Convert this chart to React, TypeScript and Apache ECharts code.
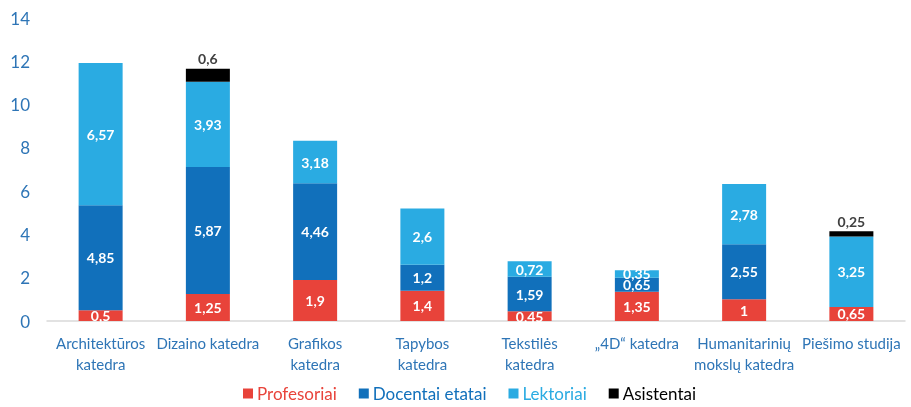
import React, { useEffect, useRef } from "react";
import * as echarts from "echarts";

const categories = [
  "Architektūros\nkatedra",
  "Dizaino katedra",
  "Grafikos\nkatedra",
  "Tapybos\nkatedra",
  "Tekstilės\nkatedra",
  "„4D“ katedra",
  "Humanitarinių\nmokslų katedra",
  "Piešimo studija",
];
const profesoriai = [0.5, 1.25, 1.9, 1.4, 0.45, 1.35, 1, 0.65];
const docentai = [4.85, 5.87, 4.46, 1.2, 1.59, 0.65, 2.55, 0];
// bar heights as drawn in the reference (Grafikos segment is drawn shorter than its label)
const lektoriai = [6.57, 3.93, 1.97, 2.6, 0.72, 0.35, 2.78, 3.25];
const lektoriaiLabels = ["6,57", "3,93", "3,18", "2,6", "0,72", "0,35", "2,78", "3,25"];
const asistentai = [0, 0.6, 0, 0, 0, 0, 0, 0.25];

const FONT = "Lato, 'Open Sans', sans-serif";
const fmt = (p: any) => (p.value ? String(p.value).replace(".", ",") : "");

export default function App() {
  const ref = useRef<HTMLDivElement>(null);
  useEffect(() => {
    const chart = echarts.init(ref.current!, undefined, { renderer: "svg" });
    const inLabel = {
      show: true,
      position: "inside",
      color: "#ffffff",
      fontWeight: "bold",
      fontSize: 14,
      fontFamily: FONT,
      formatter: fmt,
    };
    const mk = (name: string, data: number[], color: string, label: any) => ({
      name,
      type: "bar",
      stack: "s",
      data,
      barWidth: 44,
      itemStyle: { color },
      label,
    });
    chart.setOption({
      animation: false,
      grid: { left: 47, right: 6, top: 18, bottom: 86 },
      legend: {
        bottom: 0,
        left: 238,
        itemWidth: 10,
        itemHeight: 10,
        itemGap: 22,
        icon: "rect",
        textStyle: { fontSize: 17, fontFamily: FONT, padding: [0, 0, 0, -1] },
        data: [
          { name: "Profesoriai", textStyle: { color: "#E8433A" } },
          { name: "Docentai etatai", textStyle: { color: "#1170BB" } },
          { name: "Lektoriai", textStyle: { color: "#2AABE2" } },
          { name: "Asistentai", textStyle: { color: "#000000" } },
        ],
      },
      xAxis: {
        type: "category",
        data: categories,
        axisLine: { lineStyle: { color: "#d9d9d9", width: 1.5 } },
        axisTick: { show: false },
        axisLabel: {
          color: "#2E75B6",
          fontSize: 15,
          fontFamily: FONT,
          interval: 0,
          margin: 11,
          lineHeight: 21,
        },
      },
      yAxis: {
        type: "value",
        min: 0,
        max: 14,
        interval: 2,
        splitLine: { show: false },
        axisLine: { show: false },
        axisLabel: { color: "#2E75B6", fontSize: 17, fontFamily: FONT, margin: 17 },
      },
      series: [
        mk("Profesoriai", profesoriai, "#E8433A", inLabel),
        mk("Docentai etatai", docentai, "#1170BB", inLabel),
        mk("Lektoriai", lektoriai, "#2AABE2", {
          ...inLabel,
          formatter: (p: any) => lektoriaiLabels[p.dataIndex],
        }),
        mk("Asistentai", asistentai, "#000000", {
          show: true,
          position: "top",
          color: "#404040",
          fontWeight: "bold",
          fontSize: 14,
          fontFamily: FONT,
          formatter: fmt,
          distance: 3,
        }),
      ],
    });
    return () => chart.dispose();
  }, []);
  return (
    <div
      ref={ref}
      style={{ position: "fixed", left: 0, top: 0, width: 911, height: 407 }}
    />
  );
}
